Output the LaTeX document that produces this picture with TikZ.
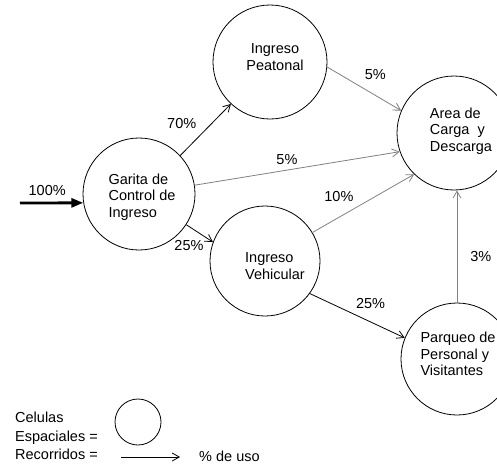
\documentclass[tikz,border=0pt]{standalone}
\usepackage{fontspec}
\setmainfont{Liberation Sans}
\usetikzlibrary{arrows.meta, positioning}

\begin{document}
\begin{tikzpicture}[
	x=1pt, y=-1pt, % pixel-like units, y pointing down
	font=\fontsize{14.5}{16.5}\selectfont,
	>={Straight Barb[length=7pt, width=8pt]},
	% Style for the spatial cells (circles)
	cell/.style={
		circle,
		draw,
		line width=0.8pt,
		minimum size=112pt,
		inner sep=0pt
	},
	% Style for the text inside a cell
	celltext/.style={
		align=left,
		inner sep=0pt
	},
	% Style for the main routes
	route/.style={
		->,
		line width=0.8pt
	},
	% Style for the minor routes
	minor/.style={
		->,
		line width=0.8pt,
		draw=gray
	},
	% Style for the percentages
	pct/.style={
		inner sep=1pt
	}
	]
	
	\useasboundingbox (0,0) rectangle (497,464);
	
	% --- NODES (CELLS) ---
	
	\node[cell, label={[celltext, xshift=3pt, yshift=-3pt]center:{Garita de\\Control de\\Ingreso}}] (garita) at (139,194) {};
	\node[cell, minimum size=114pt, label={[celltext, align=center, xshift=5pt, yshift=5pt]center:{Ingreso\\Peatonal}}] (peatonal) at (270,62) {};
	\node[cell, minimum size=114pt, label={[celltext, xshift=7pt, yshift=2pt]center:{Area de\\Carga\ \ y\\Descarga}}] (carga) at (454,133) {};
	\node[cell, minimum size=110pt, label={[celltext, xshift=10pt, yshift=-5pt]center:{Ingreso\\Vehicular}}] (vehicular) at (265,261) {};
	\node[cell, label={[celltext, xshift=1pt, yshift=5pt]center:{Parqueo de\\Personal y\\Visitantes}}] (parqueo) at (457,359) {};
	
	% Entrance
	\coordinate (entrada) at (20,203);
	
	% --- EDGES (ROUTES) ---
	
	\draw[line width=2.8pt, -{Triangle[length=12pt, width=9pt]}] (entrada) -- node[pct, pos=0.43, above=5pt] {100\%} (garita.189);
	
	\draw[route] (garita.43) -- node[pct, pos=0.62, left=14pt] {70\%} (peatonal.227);
	\draw[route] (garita.-33) -- node[pct, pos=0.1, below=13pt] {25\%} (vehicular.160);
	\draw[route] (vehicular.-36) -- node[pct, pos=0.64, above=12pt] {25\%} (parqueo.158);
	
	\draw[minor] (peatonal.-5) -- node[pct, pos=0.65, above=14pt] {5\%} (carga.157);
	\draw[minor] (garita.9) -- node[pct, pos=0.45, above=4pt] {5\%} (carga.199);
	\draw[minor] (vehicular.31) -- node[pct, pos=0.26, above=14pt] {10\%} (carga.226);
	\draw[minor] (parqueo.north) -- node[pct, pos=0.41, right=12pt] {3\%} (parqueo.north |- carga.south);
	
	% --- LEGEND ---
	
	\node[anchor=west, align=left, inner sep=0pt, font=\fontsize{14.5}{18.5}\selectfont] (leyenda) at (15,436) {Celulas\\Espaciales =\\Recorridos =};
	\node[cell, minimum size=46pt] (muestra) at (138,422) {};
	\coordinate (ruta-a) at (121,457);
	\coordinate (ruta-b) at (180,457);
	\draw[route] (ruta-a) -- (ruta-b);
	\node[anchor=west, inner sep=0pt] (uso) at (199,456) {\% de uso};
	
\end{tikzpicture}
\end{document}
